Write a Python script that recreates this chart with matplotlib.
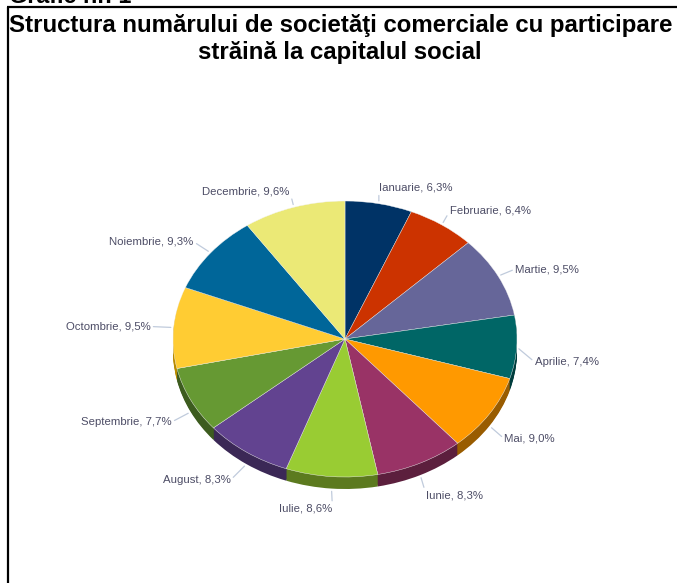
"""Structura numarului de societati comerciale, pie with a fake 3D rim."""
import colorsys
import matplotlib
matplotlib.use('Agg')
import matplotlib.pyplot as plt
import numpy as np
from matplotlib.colors import to_rgb

months = ['Ianuarie', 'Februarie', 'Martie', 'Aprilie', 'Mai', 'Iunie', 'Iulie',
          'August', 'Septembrie', 'Octombrie', 'Noiembrie', 'Decembrie']
shares = [6.3, 6.4, 9.5, 7.4, 9.0, 8.3, 8.6, 8.3, 7.7, 9.5, 9.3, 9.6]
colors = ['#003366', '#CC3300', '#666699', '#006666', '#FF9900', '#993366',
          '#99CC33', '#624390', '#669933', '#FFCC33', '#006699', '#EBE976']

# label offsets from the slice edge in pixels, and which way the text hangs
offsets = [(0, 16), (8, 14), (17, 7), (18, -15), (15, -13), (6, -20),
           (1, -20), (-16, -16), (-19, -10), (-23, 1), (-17, 11), (-4, 16)]
aligns = ['left', 'left', 'left', 'left', 'left', 'left',
          'right', 'right', 'right', 'right', 'right', 'right']

W, H = 677, 583
CX, CY, RX, RY, DEPTH = 345, 339, 172, 138, 12
SPAN = 1.6

plt.rcParams['font.family'] = ['Liberation Sans', 'DejaVu Sans']
fig = plt.figure(figsize=(W / 100, H / 100), dpi=100)
bg = fig.add_axes([0, 0, 1, 1])
bg.set_xlim(0, W)
bg.set_ylim(H, 0)
bg.axis('off')

# frame of the source page, the caption above it is cut off by the crop
bg.plot([8, 8], [H, 7], color='black', lw=1.6, solid_capstyle='butt')
bg.plot([7, W], [7, 7], color='black', lw=1.6, solid_capstyle='butt')
bg.text(9, 3, 'Grafic nr. 1', fontsize=16.8, fontweight='bold', ha='left', va='baseline')
bg.text(341, 32, 'Structura numărului de societăţi comerciale cu participare',
        fontsize=17.3, fontweight='bold', ha='center', va='baseline')
bg.text(340, 58.5, 'străină la capitalul social',
        fontsize=17.3, fontweight='bold', ha='center', va='baseline')

ax = fig.add_axes([(CX - RX * SPAN) / W, 1 - (CY + RY * SPAN) / H,
                   2 * RX * SPAN / W, 2 * RY * SPAN / H])


def darken(c, f=0.6):
    h, l, s = colorsys.rgb_to_hls(*to_rgb(c))
    return colorsys.hls_to_rgb(h, l * f, s)


rim = [darken(c) for c in colors]
d_unit = 1 / RY
for d in np.arange(DEPTH, 0, -1):
    ax.pie(shares, colors=rim, startangle=90, counterclock=False, center=(0, -d * d_unit),
           radius=1, wedgeprops=dict(linewidth=0))
wedges, _ = ax.pie(shares, colors=colors, startangle=90, counterclock=False, radius=1,
                   wedgeprops=dict(linewidth=0.3, edgecolor='#f4f4f4'))
ax.set_aspect('auto')
ax.set_xlim(-SPAN, SPAN)
ax.set_ylim(-SPAN, SPAN)

for w, name, val, off, al in zip(wedges, months, shares, offsets, aligns):
    a = np.deg2rad((w.theta1 + w.theta2) / 2)
    x, y = np.cos(a), np.sin(a)
    if y < -0.2:
        y -= DEPTH * d_unit
    txt = f'{name}, {val:.1f}%'.replace('.', ',')
    ax.annotate(txt, xy=(x, y), xytext=off, textcoords='offset pixels', ha=al, va='center',
                fontsize=8.2, color='#4d4d66',
                arrowprops=dict(arrowstyle='-', color='#c0cbdc', lw=0.9, shrinkA=0, shrinkB=2,
                                relpos=(0 if al == 'left' else 1, 0.5)))

fig.savefig('out.png', dpi=100)
